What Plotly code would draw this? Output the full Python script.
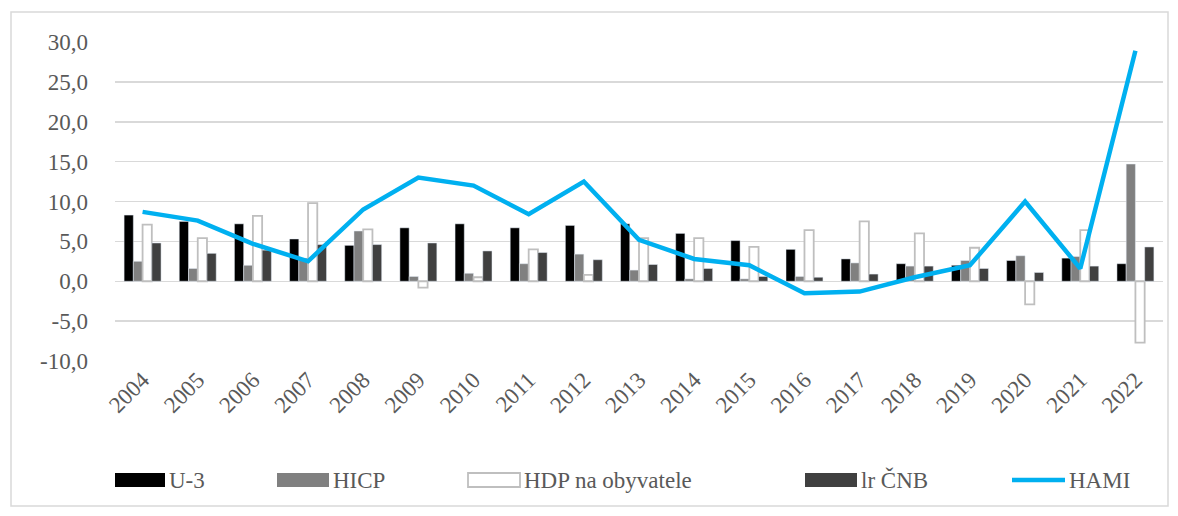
import plotly.graph_objects as go

years = [str(y) for y in range(2004, 2023)]
u3 = [8.3, 7.5, 7.2, 5.3, 4.5, 6.7, 7.2, 6.7, 7.0, 7.2, 6.0, 5.1, 4.0, 2.8, 2.2, 2.0, 2.6, 2.9, 2.2]
hicp = [2.5, 1.6, 2.0, 2.9, 6.3, 0.6, 1.0, 2.2, 3.4, 1.4, 0.3, 0.3, 0.6, 2.3, 1.9, 2.6, 3.2, 3.1, 14.7]
hdp = [7.1, 5.4, 8.2, 9.8, 6.5, -0.8, 0.5, 4.0, 0.8, 5.4, 5.4, 4.3, 6.4, 7.5, 6.0, 4.2, -2.9, 6.4, -7.7]
lr = [4.8, 3.5, 3.9, 4.6, 4.6, 4.8, 3.8, 3.6, 2.7, 2.1, 1.6, 0.6, 0.5, 0.9, 1.9, 1.6, 1.1, 1.9, 4.3]
hami = [8.7, 7.6, 4.7, 2.5, 9.0, 13.0, 12.0, 8.4, 12.5, 5.2, 2.8, 2.0, -1.5, -1.3, 0.5, 2.0, 10.0, 1.6, 28.9]

y_tickvals = [-10, -5, 0, 5, 10, 15, 20, 25, 30]
y_ticktext = ["-10,0", "-5,0", "0,0", "5,0", "10,0", "15,0", "20,0", "25,0", "30,0"]

series_names = ["U-3", "HICP", "HDP na obyvatele", "lr ČNB", "HAMI"]

font_family = "Liberation Serif, Times New Roman, serif"
txt_color = "#595959"
c_u3, c_hicp, c_hdp_line, c_lr, c_hami = "#000000", "#808080", "#bfbfbf", "#404040", "#00b0f0"

fig = go.Figure()
fig.add_trace(go.Bar(x=years, y=u3, name=series_names[0], marker=dict(color=c_u3)))
fig.add_trace(go.Bar(x=years, y=hicp, name=series_names[1], marker=dict(color=c_hicp)))
fig.add_trace(go.Bar(x=years, y=hdp, name=series_names[2],
                     marker=dict(color="#ffffff", line=dict(color=c_hdp_line, width=1.8))))
fig.add_trace(go.Bar(x=years, y=lr, name=series_names[3], marker=dict(color=c_lr)))
fig.add_trace(go.Scatter(x=years, y=hami, name=series_names[4], mode="lines",
                         line=dict(color=c_hami, width=4.5)))

W, H = 1178, 516
L, R, T, B = 115, 15, 42, 155
pw = W - L - R
ph = H - T - B


def px_x(x):
    return (x - L) / pw


def px_y(y):
    return (H - B - y) / ph


shapes = [dict(type="rect", xref="paper", yref="paper",
               x0=px_x(11), x1=px_x(1168), y0=px_y(506), y1=px_y(12),
               line=dict(color="#d9d9d9", width=1.5), layer="below")]
annotations = []

# custom legend (wide swatches like the original)
leg_y = 480
sw_h = 14
legend_items = [
    (115, 50, dict(fillcolor=c_u3, line=dict(width=0)), "bar"),
    (277, 52, dict(fillcolor=c_hicp, line=dict(width=0)), "bar"),
    (468, 52, dict(fillcolor="#ffffff", line=dict(color=c_hdp_line, width=1.8)), "bar"),
    (805, 52, dict(fillcolor=c_lr, line=dict(width=0)), "bar"),
    (1012, 53, None, "line"),
]
for (x0, w, style, kind), name in zip(legend_items, series_names):
    if kind == "bar":
        s = dict(type="rect", xref="paper", yref="paper",
                 x0=px_x(x0), x1=px_x(x0 + w),
                 y0=px_y(leg_y + sw_h / 2), y1=px_y(leg_y - sw_h / 2))
        s.update(style)
        shapes.append(s)
    else:
        shapes.append(dict(type="line", xref="paper", yref="paper",
                           x0=px_x(x0), x1=px_x(x0 + w),
                           y0=px_y(leg_y), y1=px_y(leg_y),
                           line=dict(color=c_hami, width=4.5)))
    annotations.append(dict(xref="paper", yref="paper", x=px_x(x0 + w + 2), y=px_y(leg_y),
                            xanchor="left", yanchor="middle", text=name, showarrow=False,
                            font=dict(size=23, color=txt_color, family=font_family)))

fig.update_layout(
    width=W, height=H,
    margin=dict(l=L, r=R, t=T, b=B, autoexpand=False),
    paper_bgcolor="white", plot_bgcolor="white",
    barmode="group", bargap=0.33, bargroupgap=0,
    font=dict(family=font_family, color=txt_color, size=22),
    showlegend=False,
    hovermode=False,
    xaxis=dict(tickangle=-45, showgrid=False, showline=False, ticks="",
               automargin=False, tickfont=dict(size=23, color=txt_color)),
    yaxis=dict(range=[-10, 30], tickvals=y_tickvals, ticktext=y_ticktext,
               showgrid=True, gridcolor="#d9d9d9", gridwidth=1.5, zeroline=True,
               zerolinecolor="#d9d9d9", zerolinewidth=1.5, showline=False,
               ticks="", ticklabelstandoff=26, automargin=False,
               tickfont=dict(size=23, color=txt_color)),
    shapes=shapes,
    annotations=annotations,
)

fig.write_html("out.html", config={"displayModeBar": False, "staticPlot": True},
               post_script="document.body.style.margin='0';document.body.style.padding='0';")
